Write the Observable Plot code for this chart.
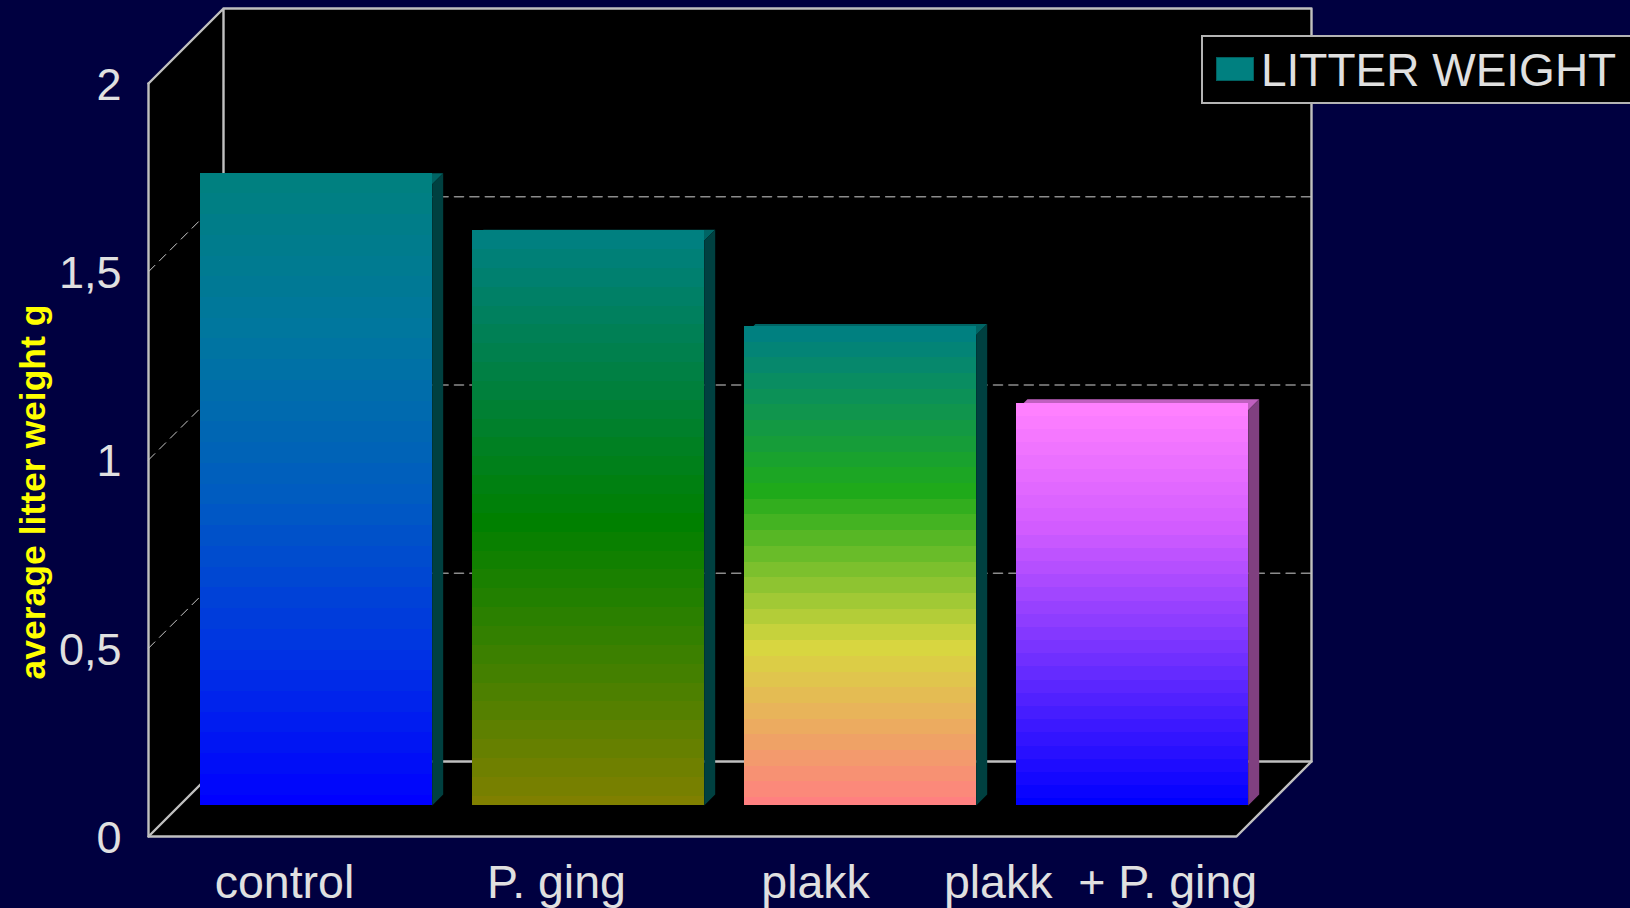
<!DOCTYPE html>
<html>
<head>
<meta charset="utf-8">
<script src="https://cdn.jsdelivr.net/npm/d3@7"></script>
<script src="https://cdn.jsdelivr.net/npm/@observablehq/plot@0.6"></script>
<style>
  html, body { margin: 0; padding: 0; width: 1630px; height: 908px; overflow: hidden; background: #000040; }
  #chart { position: relative; width: 1630px; height: 908px; overflow: hidden; }
  #chart svg { display: block; }
  .legend { position: absolute; left: 1201px; top: 35px; width: 440px; height: 65px; box-sizing: content-box;
            background: #000; border: 2px solid #b4b4b4; font: 46px "Liberation Sans", Arial, sans-serif; color: #e0e0e0; }
  .legend i { position: absolute; left: 13px; top: 20px; width: 36px; height: 22px; background: #008080; border: 1px solid #006060; }
  .legend span { position: absolute; left: 58px; top: 7px; line-height: 52px; white-space: pre; }
</style>
</head>
<body>
<div id="chart"></div>
<script>
// Mean litter weight per group
const categories = ["control", "P. ging", "plakk  ", "plakk  + P. ging"];
const litterWeight = [1.65, 1.5, 1.25, 1.05];
const yTicks = [0, 0.5, 1, 1.5, 2];
const gridValues = [0.5, 1, 1.5];
const yTitle = "average litter weight g";
const legendLabel = "LITTER WEIGHT";

// Banded face colours, top to bottom, with the stop offset of each colour
const faceStops = [
  [[0, "#008080"], [0.25, "#0076a0"], [0.5, "#005cc0"], [0.75, "#0034e2"], [1, "#0000ff"]],
  [[0, "#008080"], [0.5, "#008000"], [1, "#808000"]],
  [[0, "#008080"], [1 / 3, "#1faa1a"], [2 / 3, "#d8d640"], [1, "#ff8080"]],
  [[0, "#ff80ff"], [0.3, "#d25cff"], [0.6, "#7a34ff"], [0.8, "#3c18ff"], [1, "#0000ff"]]
];
const sideColors = ["#004040", "#004040", "#004040", "#804080"];
const topColors = ["#006464", "#006464", "#006464", "#c060c0"];

// The box is drawn in an oblique projection: depth 0 is the front plane, depth 1 the back wall.
const depthX = 75 / 272;
const depthY = 75 / 376.5;
const project = (x, y, depth = 0) => ({x: x + depth * depthX, y: y + depth * depthY});

const barFront = 0.413;
const barBack = 0.56;
const barGap = 0.077;
const barWidth = 0.852;
const faceOverrun = 1.018; // the coloured face runs a little past the bevel's front edge
const bandSteps = 30.5;    // the lowest band is cut short by the foot of the bar

const wire = {stroke: "#c0c0c0", strokeWidth: 2.4};
const polyline = (points, options) => Plot.line(points, {x: "x", y: "y", ...options});
const polygon = (points, fill) => polyline(points, {fill, stroke: "none"});

function faceBands(i) {
  const stops = faceStops[i];
  const color = d3.scaleLinear(stops.map((s) => s[0]), stops.map((s) => s[1])).interpolate(d3.interpolateRgb);
  const top = litterWeight[i] * faceOverrun;
  const base = project(i + barGap, 0, barFront);
  return d3.range(Math.ceil(bandSteps)).map((k) => ({
    x1: base.x,
    x2: base.x + barWidth,
    y1: base.y + top * (1 - k / bandSteps),
    y2: base.y + top * Math.max(0, 1 - (k + 1) / bandSteps),
    fill: color(k / Math.floor(bandSteps))
  }));
}

function barMarks(value, i) {
  const x = i + barGap;
  const r = x + barWidth;
  return [
    polygon([project(x, value, barFront), project(x, value, barBack), project(r, value, barBack), project(r, value, barFront)], topColors[i]),
    polygon([project(r, 0, barFront), project(r, 0, barBack), project(r, value, barBack), project(r, value, barFront)], sideColors[i]),
    Plot.rect(faceBands(i), {x1: "x1", x2: "x2", y1: "y1", y2: "y2", fill: "fill", shapeRendering: "crispEdges"})
  ];
}

const chart = Plot.plot({
  width: 1630,
  height: 908,
  marginLeft: 148,
  marginRight: 394,
  marginTop: 83,
  marginBottom: 72,
  x: {domain: [0, 4]},
  y: {domain: [0, 2]},
  color: {type: "identity"},
  style: {background: "transparent", fontFamily: "'Liberation Sans', Arial, sans-serif", overflow: "visible", whiteSpace: "pre"},
  marks: [
    // Black interior of the box
    polygon([project(0, 0), project(0, 2), project(0, 2, 1), project(4, 2, 1), project(4, 0, 1), project(4, 0)], "#000000"),

    // Dashed gridlines on the back and left walls
    ...gridValues.map((v) => polyline([project(0, v, 1), project(4, v, 1)], {stroke: "#8c8c8c", strokeWidth: 1.6, strokeDasharray: "9 6.4"})),
    ...gridValues.map((v) => polyline([project(0, v), project(0, v, 1)], {stroke: "#c8c8c8", strokeWidth: 1, strokeDasharray: "9 6.4"})),

    // Wireframe
    polyline([project(0, 2, 1), project(0, 0, 1), project(4, 0, 1), project(4, 2, 1), project(0, 2, 1), project(0, 2)], wire),
    polyline([project(0, 0, 1), project(0, 0)], wire),
    polyline([project(0, 2), project(0, 0), project(4, 0), project(4, 0, 1)], wire),

    ...litterWeight.flatMap(barMarks),

    Plot.axisY({
      ticks: yTicks,
      tickFormat: (d) => String(d).replace(".", ","),
      tickSize: 0,
      tickPadding: 27,
      dy: 2,
      fontSize: 45,
      color: "#e0e0e0",
      label: null
    }),
    Plot.axisX({
      ticks: categories.map((_, i) => i + 0.5),
      tickFormat: (d) => categories[d - 0.5],
      tickSize: 0,
      tickPadding: 28,
      fontSize: 46.5,
      color: "#e0e0e0",
      label: null
    }),
    Plot.text([yTitle], {
      x: 0,
      y: 0.915,
      text: (d) => d,
      rotate: -90,
      dx: -115,
      fontSize: 35.5,
      fontWeight: "bold",
      fill: "#ffff00"
    })
  ]
});

const root = document.getElementById("chart");
root.appendChild(chart);

const legend = document.createElement("div");
legend.className = "legend";
legend.innerHTML = "<i></i><span></span>";
legend.querySelector("span").textContent = legendLabel;
root.appendChild(legend);
</script>
</body>
</html>
